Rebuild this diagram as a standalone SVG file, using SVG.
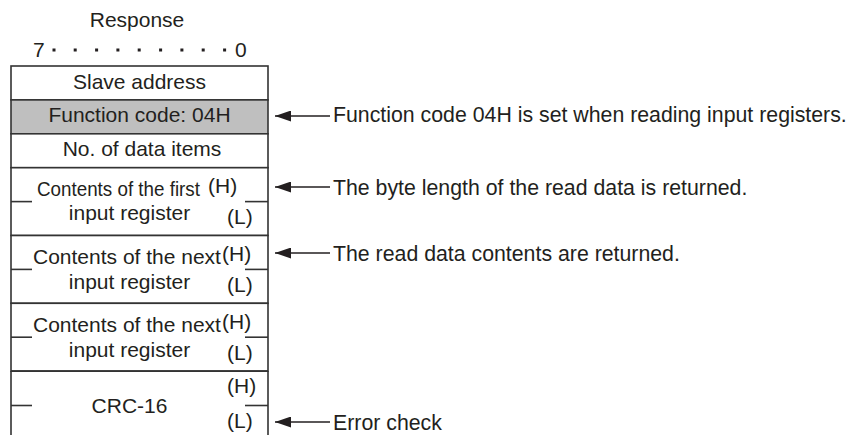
<svg xmlns="http://www.w3.org/2000/svg" width="850" height="435" viewBox="0 0 850 435">
<style>
  text { font-family: "Liberation Sans", Arial, sans-serif; font-size: 21px; fill: #231f20; }
  .c { text-anchor: middle; }
  .note { font-size: 21.3px; }
  .ln { stroke: #333; stroke-width: 1.6; fill: none; }
  .cell { fill: #fff; stroke: #333; stroke-width: 1.6; }
  .gray { fill: #bfbfbf; stroke: #333; stroke-width: 1.6; }
  .arr { stroke: #231f20; stroke-width: 1.4; fill: none; marker-end: url(#ah); }
  .dot { fill: #231f20; }
</style>
<defs>
  <marker id="ah" viewBox="0 0 16 11" markerWidth="16" markerHeight="11" refX="16" refY="5.5" orient="auto" markerUnits="userSpaceOnUse">
    <path d="M0,0 L16,5.5 L0,11 z" fill="#231f20"/>
  </marker>
</defs>
<rect width="850" height="435" fill="#fff"/>

<g id="header">
  <text class="c" x="137" y="27">Response</text>
  <text x="33" y="57">7</text>
  <text x="235" y="57">0</text>
  <rect class="dot" x="52.5" y="48.5" width="3" height="3"/>
  <rect class="dot" x="73.7" y="48.5" width="3" height="3"/>
  <rect class="dot" x="95.1" y="48.5" width="3" height="3"/>
  <rect class="dot" x="116.4" y="48.5" width="3" height="3"/>
  <rect class="dot" x="137.7" y="48.5" width="3" height="3"/>
  <rect class="dot" x="159.1" y="48.5" width="3" height="3"/>
  <rect class="dot" x="180.4" y="48.5" width="3" height="3"/>
  <rect class="dot" x="201.7" y="48.5" width="3" height="3"/>
  <rect class="dot" x="223.1" y="48.5" width="3" height="3"/>
</g>

<g id="slave-address">
  <rect class="cell" x="11" y="66" width="257" height="33.9"/>
  <text class="c" x="139.5" y="89">Slave address</text>
</g>

<g id="function-code">
  <rect class="gray" x="11" y="99.9" width="257" height="33.9"/>
  <text class="c" x="139.5" y="122">Function code: 04H</text>
</g>

<g id="data-items">
  <rect class="cell" x="11" y="133.8" width="257" height="33.9"/>
  <text class="c" x="142" y="156">No. of data items</text>
</g>

<g id="register-first">
  <rect class="cell" x="11" y="167.7" width="257" height="67.8"/>
  <line class="ln" x1="11" y1="201.6" x2="32" y2="201.6"/>
  <line class="ln" x1="245" y1="201.6" x2="268" y2="201.6"/>
  <text x="37" y="196" style="font-size:19.5px" textLength="163" lengthAdjust="spacingAndGlyphs">Contents of the first</text>
  <text x="208" y="193">(H)</text>
  <text class="c" x="129.5" y="220">input register</text>
  <text x="227" y="224">(L)</text>
</g>

<g id="register-next-1">
  <rect class="cell" x="11" y="235.5" width="257" height="67.8"/>
  <line class="ln" x1="11" y1="269.4" x2="32" y2="269.4"/>
  <line class="ln" x1="245" y1="269.4" x2="268" y2="269.4"/>
  <text x="33" y="264">Contents of the next</text>
  <text x="222" y="261">(H)</text>
  <text class="c" x="129.5" y="289">input register</text>
  <text x="227" y="292">(L)</text>
</g>

<g id="register-next-2">
  <rect class="cell" x="11" y="303.3" width="257" height="67.8"/>
  <line class="ln" x1="11" y1="337.2" x2="32" y2="337.2"/>
  <line class="ln" x1="245" y1="337.2" x2="268" y2="337.2"/>
  <text x="33" y="332">Contents of the next</text>
  <text x="222" y="329">(H)</text>
  <text class="c" x="129.5" y="357">input register</text>
  <text x="227" y="360">(L)</text>
</g>

<g id="crc-16">
  <path class="ln" d="M11,371.1 H268 M11,371.1 V436 M268,371.1 V436"/>
  <line class="ln" x1="11" y1="405.5" x2="32" y2="405.5"/>
  <line class="ln" x1="245" y1="405.5" x2="268" y2="405.5"/>
  <text class="c" x="129.5" y="413">CRC-16</text>
  <text x="227" y="393">(H)</text>
  <text x="227" y="428">(L)</text>
</g>

<g id="connectors">
  <line class="arr" x1="330" y1="116" x2="275" y2="116"/>
  <line class="arr" x1="330" y1="187" x2="275" y2="187"/>
  <line class="arr" x1="330" y1="253" x2="275" y2="253"/>
  <line class="arr" x1="330" y1="422" x2="275" y2="422"/>
  <text class="note" x="333" y="122">Function code 04H is set when reading input registers.</text>
  <text class="note" x="333" y="195">The byte length of the read data is returned.</text>
  <text class="note" x="333" y="261">The read data contents are returned.</text>
  <text class="note" x="333" y="430">Error check</text>
</g>
</svg>
